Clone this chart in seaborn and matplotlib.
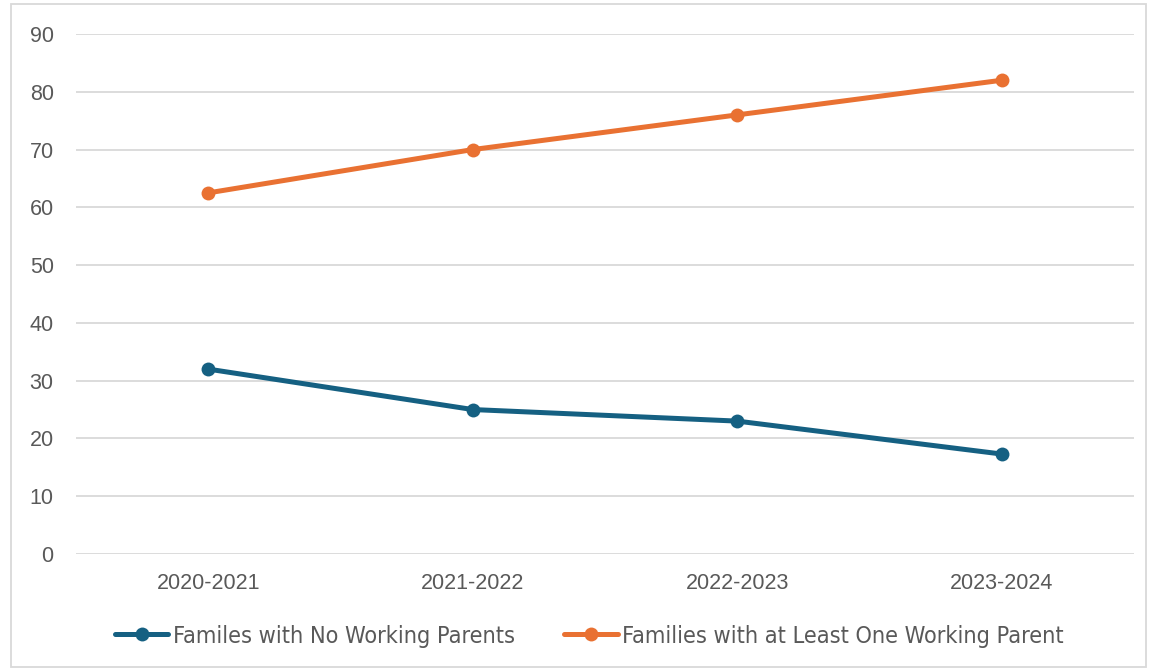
import matplotlib
matplotlib.use("Agg")
import matplotlib.pyplot as plt
from matplotlib.patches import Rectangle
from matplotlib.lines import Line2D
from matplotlib import font_manager
import seaborn as sns
import pandas as pd

years = ["2020-2021", "2021-2022", "2022-2023", "2023-2024"]
no_working = [32.0, 25.0, 23.0, 17.3]
one_working = [62.5, 70.0, 76.0, 82.0]
series_names = ["Familes with No Working Parents",
                "Families with at Least One Working Parent"]
y_ticks = [0, 10, 20, 30, 40, 50, 60, 70, 80, 90]

colors = {series_names[0]: "#156082", series_names[1]: "#E97132"}

df = pd.DataFrame({
    "period": years * 2,
    "value": no_working + one_working,
    "series": [series_names[0]] * 4 + [series_names[1]] * 4,
})

sns.set_theme(style="white")
plt.rcParams["font.family"] = ["Liberation Sans", "DejaVu Sans"]

# prefer a narrow face for the legend, if one is installed
narrow = None
for f in font_manager.fontManager.ttflist:
    tag = (f.name + " " + f.fname).lower()
    if ("narrow" in tag or "condensed" in tag) and f.weight in (400, "normal", "regular") \
            and f.style == "normal":
        narrow = f
        break
if narrow is not None:
    legend_prop = font_manager.FontProperties(fname=narrow.fname, size=16.8)
else:
    legend_prop = font_manager.FontProperties(family="Liberation Sans", size=16.5)

fig = plt.figure(figsize=(11.49, 6.71), dpi=100)
ax = fig.add_axes([0.0661, 0.1744, 0.9208, 0.7749])

sns.lineplot(data=df, x="period", y="value", hue="series", palette=colors,
             marker="o", markersize=10, markeredgewidth=0, linewidth=3.6,
             sort=False, ax=ax, legend=False)

ax.set_xlim(-0.5, 3.5)
ax.set_ylim(0, 90)
ax.set_yticks(y_ticks)
ax.yaxis.grid(True, color="#D9D9D9", linewidth=1.3)
ax.xaxis.grid(False)
ax.set_axisbelow(True)
for s in ax.spines.values():
    s.set_visible(False)
ax.set_xlabel("")
ax.set_ylabel("")
ax.tick_params(axis="both", length=0, labelsize=15.5, labelcolor="#595959")
ax.tick_params(axis="y", pad=16)
ax.tick_params(axis="x", pad=14)

handles = [Line2D([0], [0], color=colors[n], lw=3.6, marker="o", markersize=10,
                  markeredgewidth=0) for n in series_names]
fig.legend(handles, series_names, loc="center", bbox_to_anchor=(0.513, 0.052),
           ncol=2, frameon=False, handlelength=2.3, handletextpad=0.2,
           columnspacing=2.1, prop=legend_prop, labelcolor="#595959")

fig.patches.append(Rectangle((11 / 1149, 4 / 671), 1135 / 1149, 663 / 671,
                             transform=fig.transFigure, fill=False,
                             edgecolor="#D9D9D9", linewidth=1.3))

fig.savefig("out.png", dpi=100, facecolor="white")
